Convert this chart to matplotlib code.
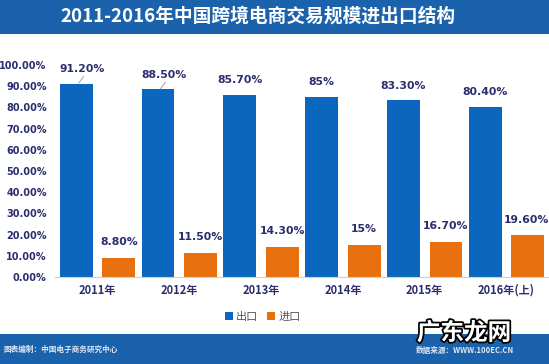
import matplotlib
matplotlib.use("Agg")
import matplotlib.pyplot as plt
from matplotlib.patches import Rectangle
import matplotlib.patheffects as pe
import numpy as np

plt.rcParams['font.family'] = ['Noto Sans CJK SC', 'DejaVu Sans']

categories = ["2011年", "2012年", "2013年", "2014年", "2015年", "2016年(上)"]
export_vals = [91.2, 88.5, 85.7, 85.0, 83.3, 80.4]
import_vals = [8.8, 11.5, 14.3, 15.0, 16.7, 19.6]
export_labels = ["91.20%", "88.50%", "85.70%", "85%", "83.30%", "80.40%"]
import_labels = ["8.80%", "11.50%", "14.30%", "15%", "16.70%", "19.60%"]
yticks = [0, 10, 20, 30, 40, 50, 60, 70, 80, 90, 100]
ytick_labels = ["%.2f%%" % v for v in yticks]
series_names = ["出口", "进口"]

BLUE = "#0b67bd"
ORANGE = "#e8700e"
BAND = "#1b62ac"
NAVY = "#2b2d6e"

fig = plt.figure(figsize=(5.49, 3.64), dpi=100)
fig.patch.set_facecolor("white")

# title band
fig.patches.append(Rectangle((0, 1 - 34/364), 1, 34/364, transform=fig.transFigure,
                             facecolor=BAND, edgecolor="none", zorder=0))
fig.text(258/549, 1 - 16/364, "2011-2016年中国跨境电商交易规模进出口结构", color="white",
         fontsize=13.5, fontweight="bold", ha="center", va="center")

# footer band
fig.patches.append(Rectangle((0, 0), 1, 30/364, transform=fig.transFigure,
                             facecolor=BAND, edgecolor="none", zorder=0))
fig.text(3/549, 1 - 349/364, "图表编制：中国电子商务研究中心", color="#dfe6f2",
         fontsize=5.5, fontweight="bold", ha="left", va="center")
fig.text(514/549, 1 - 350/364, "数据来源：WWW.100EC.CN", color="#dfe6f2",
         fontsize=5.5, fontweight="bold", ha="right", va="center")

ax = fig.add_axes([55/549, 87/364, 494/549, 212/364])
x = np.arange(len(categories))
w = 0.4
off = 0.26
b1 = ax.bar(x - off, export_vals, w, color=BLUE, label=series_names[0], zorder=2)
b2 = ax.bar(x + off, import_vals, w, color=ORANGE, label=series_names[1], zorder=2)

for i, (v, lab) in enumerate(zip(export_vals, export_labels)):
    dx = 0.075 if i < 2 else 0.0
    ax.text(x[i] - off + dx, v + 7, lab, ha="center", va="center", color=NAVY,
            fontsize=7.8, fontweight="bold", family="DejaVu Sans")
    if i < 2:
        ax.plot([x[i] - off + 0.03, x[i] - off + 0.09], [v + 0.3, v + 3.3],
                color="#9aa0b0", lw=0.7, zorder=3)
for i, (v, lab) in enumerate(zip(import_vals, import_labels)):
    dx = -0.02 if i == len(import_vals) - 1 else 0.0
    ax.text(x[i] + off + dx, v + 7.5, lab, ha="center", va="center", color=NAVY,
            fontsize=7.8, fontweight="bold", family="DejaVu Sans")

ax.set_xlim(-0.52, len(categories) - 0.48)
ax.set_ylim(0, 100)
ax.set_yticks(yticks)
ax.set_yticklabels(ytick_labels, family="DejaVu Sans", fontweight="bold", color=NAVY, fontsize=7)
ax.set_xticks(x)
ax.set_xticklabels(categories, fontweight="bold", color=NAVY, fontsize=8)
ax.tick_params(axis="both", length=0)
ax.tick_params(axis="y", pad=6)
ax.tick_params(axis="x", pad=5)
for s in ["top", "right", "left"]:
    ax.spines[s].set_visible(False)
ax.spines["bottom"].set_color("#d0d0d0")
ax.spines["bottom"].set_linewidth(0.8)

leg = fig.legend(handles=[b1, b2], labels=series_names, loc="center",
                 bbox_to_anchor=(263/549, 1 - 317/364), ncol=2, frameon=False,
                 fontsize=8, handlelength=0.7, handleheight=0.7, handletextpad=0.3,
                 columnspacing=0.8)
for t in leg.get_texts():
    t.set_color("#555555")

# watermark
fig.text(464/549, 1 - 333/364, "广东龙网", color="white", fontsize=17, fontweight="bold",
         ha="center", va="center",
         path_effects=[pe.withStroke(linewidth=2.5, foreground="black")], zorder=10)

fig.savefig("out.png", dpi=100)
